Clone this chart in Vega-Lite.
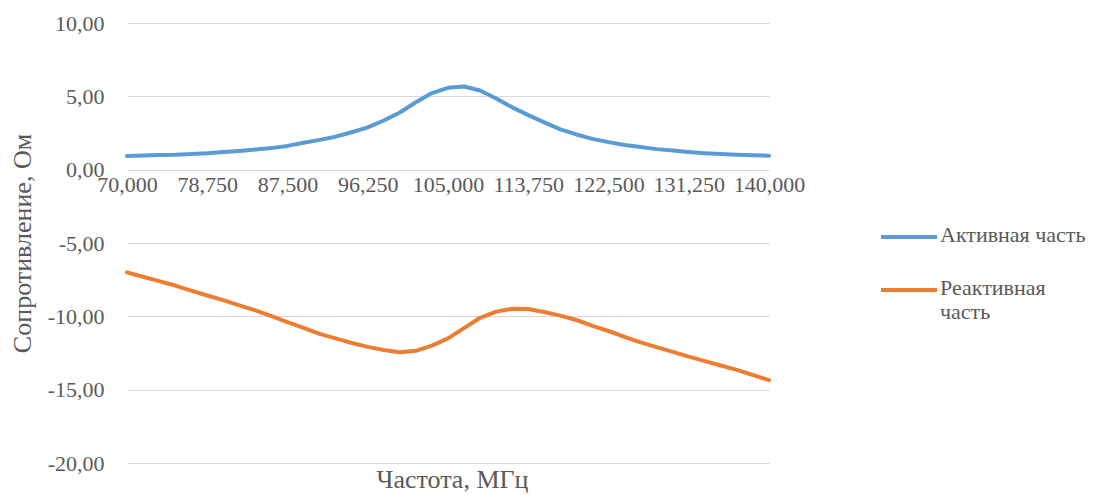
{
  "$schema": "https://vega.github.io/schema/vega-lite/v6.json",
  "width": 642,
  "height": 440,
  "autosize": {"type": "none"},
  "padding": {"left": 127, "top": 23, "right": 330, "bottom": 32},
  "background": "white",
  "data": {
    "values": [
      {"f": 70, "s": "Активная часть", "r": 0.93},
      {"f": 71.75, "s": "Активная часть", "r": 0.97},
      {"f": 73.5, "s": "Активная часть", "r": 1.0},
      {"f": 75.25, "s": "Активная часть", "r": 1.02},
      {"f": 77, "s": "Активная часть", "r": 1.07},
      {"f": 78.75, "s": "Активная часть", "r": 1.12},
      {"f": 80.5, "s": "Активная часть", "r": 1.2},
      {"f": 82.25, "s": "Активная часть", "r": 1.28},
      {"f": 84, "s": "Активная часть", "r": 1.37},
      {"f": 85.75, "s": "Активная часть", "r": 1.47},
      {"f": 87.5, "s": "Активная часть", "r": 1.62},
      {"f": 89.25, "s": "Активная часть", "r": 1.83},
      {"f": 91, "s": "Активная часть", "r": 2.03},
      {"f": 92.75, "s": "Активная часть", "r": 2.25},
      {"f": 94.5, "s": "Активная часть", "r": 2.55},
      {"f": 96.25, "s": "Активная часть", "r": 2.88},
      {"f": 98, "s": "Активная часть", "r": 3.35},
      {"f": 99.75, "s": "Активная часть", "r": 3.9},
      {"f": 101.5, "s": "Активная часть", "r": 4.6},
      {"f": 103.25, "s": "Активная часть", "r": 5.22},
      {"f": 105, "s": "Активная часть", "r": 5.58},
      {"f": 106.75, "s": "Активная часть", "r": 5.67},
      {"f": 108.5, "s": "Активная часть", "r": 5.4},
      {"f": 110.25, "s": "Активная часть", "r": 4.85},
      {"f": 112, "s": "Активная часть", "r": 4.25},
      {"f": 113.75, "s": "Активная часть", "r": 3.72},
      {"f": 115.5, "s": "Активная часть", "r": 3.22},
      {"f": 117.25, "s": "Активная часть", "r": 2.75},
      {"f": 119, "s": "Активная часть", "r": 2.4},
      {"f": 120.75, "s": "Активная часть", "r": 2.1},
      {"f": 122.5, "s": "Активная часть", "r": 1.88},
      {"f": 124.25, "s": "Активная часть", "r": 1.68},
      {"f": 126, "s": "Активная часть", "r": 1.54},
      {"f": 127.75, "s": "Активная часть", "r": 1.4},
      {"f": 129.5, "s": "Активная часть", "r": 1.3},
      {"f": 131.25, "s": "Активная часть", "r": 1.2},
      {"f": 133, "s": "Активная часть", "r": 1.12},
      {"f": 134.75, "s": "Активная часть", "r": 1.06},
      {"f": 136.5, "s": "Активная часть", "r": 1.02},
      {"f": 138.25, "s": "Активная часть", "r": 0.98},
      {"f": 140, "s": "Активная часть", "r": 0.95},
      {"f": 70, "s": "Реактивная часть", "r": -7.0},
      {"f": 71.75, "s": "Реактивная часть", "r": -7.3},
      {"f": 73.5, "s": "Реактивная часть", "r": -7.6},
      {"f": 75.25, "s": "Реактивная часть", "r": -7.9},
      {"f": 77, "s": "Реактивная часть", "r": -8.25},
      {"f": 78.75, "s": "Реактивная часть", "r": -8.58},
      {"f": 80.5, "s": "Реактивная часть", "r": -8.9},
      {"f": 82.25, "s": "Реактивная часть", "r": -9.25},
      {"f": 84, "s": "Реактивная часть", "r": -9.6},
      {"f": 85.75, "s": "Реактивная часть", "r": -9.98},
      {"f": 87.5, "s": "Реактивная часть", "r": -10.4},
      {"f": 89.25, "s": "Реактивная часть", "r": -10.78},
      {"f": 91, "s": "Реактивная часть", "r": -11.2},
      {"f": 92.75, "s": "Реактивная часть", "r": -11.5},
      {"f": 94.5, "s": "Реактивная часть", "r": -11.82},
      {"f": 96.25, "s": "Реактивная часть", "r": -12.08},
      {"f": 98, "s": "Реактивная часть", "r": -12.3},
      {"f": 99.75, "s": "Реактивная часть", "r": -12.45},
      {"f": 101.5, "s": "Реактивная часть", "r": -12.35},
      {"f": 103.25, "s": "Реактивная часть", "r": -12.0},
      {"f": 105, "s": "Реактивная часть", "r": -11.5},
      {"f": 106.75, "s": "Реактивная часть", "r": -10.8},
      {"f": 108.5, "s": "Реактивная часть", "r": -10.1},
      {"f": 110.25, "s": "Реактивная часть", "r": -9.68},
      {"f": 112, "s": "Реактивная часть", "r": -9.48},
      {"f": 113.75, "s": "Реактивная часть", "r": -9.5},
      {"f": 115.5, "s": "Реактивная часть", "r": -9.7},
      {"f": 117.25, "s": "Реактивная часть", "r": -9.95},
      {"f": 119, "s": "Реактивная часть", "r": -10.25},
      {"f": 120.75, "s": "Реактивная часть", "r": -10.65},
      {"f": 122.5, "s": "Реактивная часть", "r": -11.0},
      {"f": 124.25, "s": "Реактивная часть", "r": -11.4},
      {"f": 126, "s": "Реактивная часть", "r": -11.78},
      {"f": 127.75, "s": "Реактивная часть", "r": -12.1},
      {"f": 129.5, "s": "Реактивная часть", "r": -12.42},
      {"f": 131.25, "s": "Реактивная часть", "r": -12.75},
      {"f": 133, "s": "Реактивная часть", "r": -13.05},
      {"f": 134.75, "s": "Реактивная часть", "r": -13.35},
      {"f": 136.5, "s": "Реактивная часть", "r": -13.65},
      {"f": 138.25, "s": "Реактивная часть", "r": -14.0},
      {"f": 140, "s": "Реактивная часть", "r": -14.35}
    ]
  },
  "mark": {"type": "line", "strokeWidth": 4, "strokeCap": "round", "strokeJoin": "round"},
  "encoding": {
    "x": {
      "field": "f",
      "type": "quantitative",
      "scale": {"domain": [70, 140], "nice": false, "zero": false},
      "axis": {
        "title": "Частота, МГц",
        "values": [70, 78.75, 87.5, 96.25, 105, 113.75, 122.5, 131.25, 140],
        "labelExpr": "replace(format(datum.value, '.3f'), '.', ',')",
        "offset": -293.3,
        "grid": false,
        "domain": false,
        "ticks": false,
        "labelPadding": 5,
        "labelDx": 3,
        "labelOverlap": false,
        "labelFlush": false,
        "titleX": 325,
        "titleY": 318,
        "titleBaseline": "alphabetic",
        "titleAlign": "center"
      }
    },
    "y": {
      "field": "r",
      "type": "quantitative",
      "scale": {"domain": [-20, 10], "nice": false, "zero": false},
      "axis": {
        "title": "Сопротивление, Ом",
        "values": [-20, -15, -10, -5, 0, 5, 10],
        "labelExpr": "replace(replace(format(datum.value, '.2f'), '.', ','), '−', '-')",
        "grid": true,
        "domain": false,
        "ticks": false,
        "labelPadding": 23,
        "titleX": -105,
        "titleY": 220,
        "titleAngle": -90,
        "titleBaseline": "middle",
        "titleAlign": "center"
      }
    },
    "color": {
      "field": "s",
      "type": "nominal",
      "scale": {"domain": ["Активная часть", "Реактивная часть"], "range": ["#5B9BD5", "#ED7D31"]},
      "legend": {
        "title": null,
        "orient": "none",
        "legendX": 752,
        "legendY": 184,
        "symbolType": "stroke",
        "symbolSize": 3136,
        "symbolStrokeWidth": 4,
        "labelOffset": 1,
        "rowPadding": 14,
        "labelExpr": "datum.label == 'Реактивная часть' ? ['Реактивная', 'часть'] : datum.label",
        "labelBaseline": "top",
        "labelLimit": 300,
        "encode": {"labels": {"update": {"dy": {"value": -12}}}}
      }
    }
  },
  "config": {
    "view": {"stroke": null},
    "font": "Liberation Serif",
    "axis": {
      "labelFont": "Liberation Serif",
      "labelFontSize": 22,
      "labelColor": "#595959",
      "titleFont": "Liberation Serif",
      "titleFontSize": 26,
      "titleFontWeight": "normal",
      "titleColor": "#595959",
      "gridColor": "#D9D9D9",
      "gridWidth": 1
    },
    "legend": {
      "labelFont": "Liberation Serif",
      "labelFontSize": 22,
      "labelColor": "#595959"
    },
    "text": {"lineHeight": 27}
  }
}
